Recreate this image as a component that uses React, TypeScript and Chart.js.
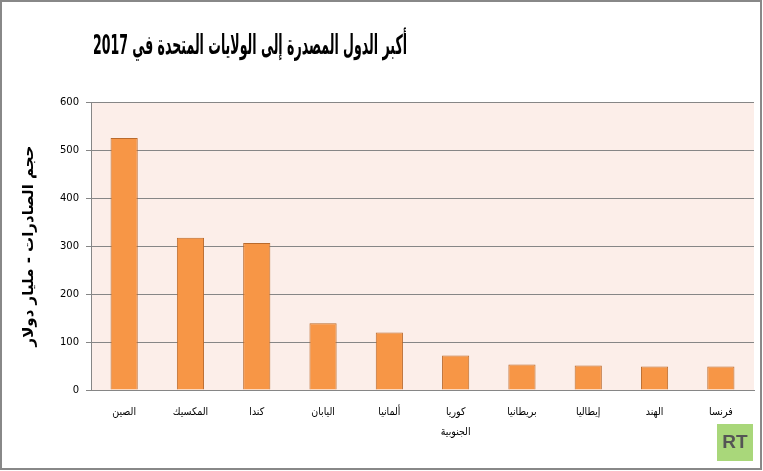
import React, { useEffect, useRef } from "react";
import { Chart, registerables } from "chart.js";

Chart.register(...registerables);

const TITLE = "أكبر الدول المصدرة إلى الولايات المتحدة في 2017";
const Y_TITLE = "حجم الصادرات - مليار دولار";
const CATEGORIES: (string | string[])[] = [
  "الصين",
  "المكسيك",
  "كندا",
  "اليابان",
  "ألمانيا",
  ["كوريا", "الجنوبية"],
  "بريطانيا",
  "إيطاليا",
  "الهند",
  "فرنسا",
];
const EXPORTS = [525, 317, 306, 139, 120, 72, 53, 51, 49, 49];
const Y_MIN = 0;
const Y_MAX = 600;
const Y_STEP = 100;

const W = 763;
const H = 471;

const decorPlugin = {
  id: "decor",
  beforeDraw(chart: any) {
    const { ctx, chartArea } = chart;
    ctx.save();
    ctx.fillStyle = "#ffffff";
    ctx.fillRect(0, 0, chart.width, chart.height);
    ctx.fillStyle = "#FCEEE9";
    ctx.fillRect(chartArea.left, chartArea.top, chartArea.right - chartArea.left, chartArea.bottom - chartArea.top);
    ctx.restore();
  },
  afterDraw(chart: any) {
    const { ctx } = chart;
    ctx.save();
    // title
    ctx.direction = "rtl";
    ctx.textAlign = "center";
    ctx.textBaseline = "middle";
    ctx.fillStyle = "#000000";
    ctx.font = "bold 27px 'DejaVu Sans Condensed', 'DejaVu Sans'";
    ctx.fillText(TITLE, 250, 47, 314);
    ctx.direction = "ltr";
    // logo
    ctx.fillStyle = "#A9D77A";
    ctx.fillRect(717, 424, 36, 37);
    ctx.fillStyle = "#555555";
    ctx.font = "bold 19px 'Liberation Sans'";
    ctx.textAlign = "center";
    ctx.fillText("RT", 735, 443);
    // frame
    ctx.strokeStyle = "#888888";
    ctx.lineWidth = 2;
    ctx.strokeRect(1, 1, 760, 468);
    ctx.restore();
  },
};

export default function App() {
  const ref = useRef<HTMLCanvasElement>(null);
  useEffect(() => {
    if (!ref.current) return;
    const chart = new Chart(ref.current, {
      type: "bar",
      data: {
        labels: CATEGORIES,
        datasets: [
          {
            data: EXPORTS,
            backgroundColor: "#F79646",
            borderColor: "#BA6A2C",
            borderWidth: 1,
            categoryPercentage: 1,
            barPercentage: 0.41,
          },
        ],
      },
      options: {
        animation: false,
        responsive: false,
        devicePixelRatio: 1,
        layout: { padding: { top: 102, right: 9, bottom: 0, left: 0 } },
        plugins: {
          legend: { display: false },
          title: { display: false },
          tooltip: { enabled: false },
        },
        scales: {
          x: {
            grid: { display: false, drawTicks: false },
            border: { color: "#868686", width: 1 },
            ticks: {
              color: "#000000",
              font: { family: "'DejaVu Sans Condensed', 'DejaVu Sans'", size: 10.5, lineHeight: 1.9 },
              padding: 12,
              maxRotation: 0,
              autoSkip: false,
            },
            afterFit(scale: any) {
              scale.height = 81;
            },
          },
          y: {
            min: Y_MIN,
            max: Y_MAX,
            ticks: {
              stepSize: Y_STEP,
              color: "#000000",
              font: { family: "'DejaVu Sans'", size: 10 },
              padding: 7,
            },
            grid: { color: "#868686", lineWidth: 1, tickLength: 5 },
            border: { color: "#868686", width: 1 },
            title: {
              display: true,
              text: Y_TITLE,
              color: "#000000",
              font: { family: "'DejaVu Sans'", size: 15, weight: "bold" },
              padding: { top: 20, bottom: 0 },
            },
            afterFit(scale: any) {
              scale.width = 91;
            },
          },
        },
      },
      plugins: [decorPlugin],
    });
    return () => chart.destroy();
  }, []);
  return (
    <div style={{ position: "fixed", left: 0, top: 0, width: W, height: H }}>
      <canvas ref={ref} width={W} height={H} style={{ display: "block", width: W, height: H }} />
    </div>
  );
}
